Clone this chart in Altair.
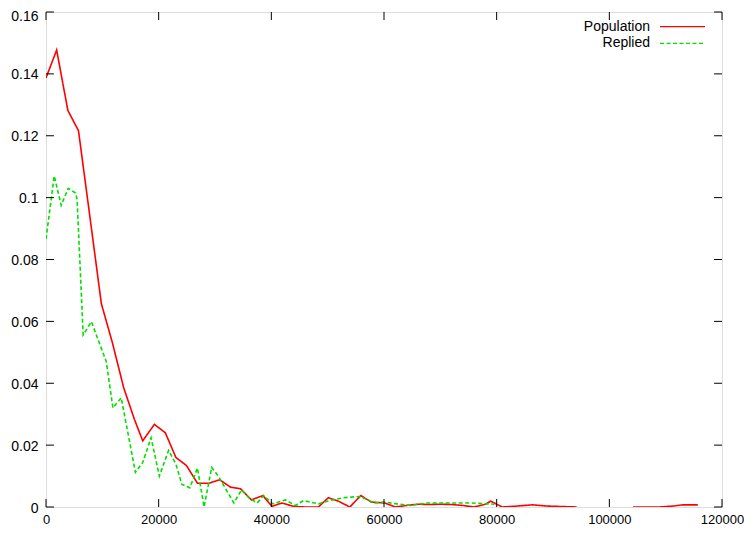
import altair as alt
import pandas as pd

FONT = "Liberation Sans"

# Population (red, solid) - first run
pop_x_a = [0, 1890, 3880, 5770, 7800, 9830, 11800, 13800, 15700, 17170, 19240, 21180,
           23060, 24940, 26880, 28940, 30820, 32770, 34530, 36470, 38500, 40100, 41880,
           43940, 46000, 48350, 50120, 51880, 53940, 55880, 57760, 60120, 62000, 64000,
           66000, 68000, 70000, 72000, 74000, 76000, 78000, 78940, 80000, 81000, 83600,
           86300, 89000, 94200]
pop_y_a = [0.1387, 0.1477, 0.1282, 0.1216, 0.0937, 0.0657, 0.0530, 0.0385, 0.0283, 0.0214,
           0.0267, 0.0240, 0.0160, 0.0134, 0.0077, 0.0077, 0.0088, 0.0064, 0.0059, 0.0023,
           0.0037, 0.0002, 0.0013, 0.0002, 0.0, 0.0, 0.0030, 0.0019, 0.0, 0.0037, 0.0016,
           0.0013, 0.0, 0.0005, 0.0009, 0.0008, 0.0009, 0.0008, 0.0005, 0.0, 0.0009, 0.0019,
           0.0009, 0.0, 0.0003, 0.0007, 0.0003, 0.0]
# Population - second run (after gap)
pop_x_b = [104200, 108900, 111300, 113000, 115700]
pop_y_b = [0.0, 0.0, 0.0003, 0.0007, 0.0007]

# Replied (green, dashed)
rep_x = [0, 1460, 2700, 3940, 5240, 5520, 6600, 8060, 10700, 11880, 13350, 15880, 17170,
         18650, 20120, 21760, 23060, 24120, 25530, 26880, 28060, 29410, 30590, 31880, 33350,
         34700, 36000, 37470, 38650, 40250, 42490, 44260, 45740, 48350, 50410, 52760, 55700,
         58350, 60000, 62350, 64700, 67650, 75300, 79600]
rep_y = [0.0866, 0.1070, 0.0975, 0.1030, 0.1015, 0.0994, 0.0556, 0.0599, 0.0470, 0.0320,
         0.0353, 0.0112, 0.0144, 0.0224, 0.0100, 0.0183, 0.0139, 0.0073, 0.0062, 0.0126,
         0.0, 0.0128, 0.0100, 0.0059, 0.0013, 0.0055, 0.0030, 0.0013, 0.0037, 0.0010,
         0.0023, 0.0005, 0.0021, 0.0010, 0.0021, 0.0030, 0.0034, 0.0013, 0.0016, 0.0010,
         0.0005, 0.0013, 0.0013, 0.0009]

series_names = ["Population", "Replied"]
series_colors = ["#ff0000", "#00e000"]

x_ticks = [0, 20000, 40000, 60000, 80000, 100000, 120000]
y_ticks = [0, 0.02, 0.04, 0.06, 0.08, 0.1, 0.12, 0.14, 0.16]

rows = []
for x, y in zip(pop_x_a, pop_y_a):
    rows.append({"series": "Population", "seg": "Population-a", "x": x, "y": y})
for x, y in zip(pop_x_b, pop_y_b):
    rows.append({"series": "Population", "seg": "Population-b", "x": x, "y": y})
for x, y in zip(rep_x, rep_y):
    rows.append({"series": "Replied", "seg": "Replied-a", "x": x, "y": y})
df = pd.DataFrame(rows)

xscale = alt.Scale(domain=[0, 120000], nice=False, zero=False)
yscale = alt.Scale(domain=[0, 0.16], nice=False, zero=False)

x_axis = alt.Axis(values=x_ticks, format="d", grid=False, ticks=False, domain=False,
                  labelPadding=6, labelFontSize=13, labelFont=FONT, labelColor="#000",
                  labelFlush=False, title=None)
y_axis = alt.Axis(values=y_ticks, format="~g", grid=False, ticks=False, domain=False,
                  labelPadding=8, labelFontSize=14, labelFont=FONT, labelColor="#000",
                  labelFlush=False,
                  labelOffset={"condition": {"test": "datum.value >= 0.159", "value": 4},
                               "value": 1},
                  title=None)

lines = alt.Chart(df).mark_line(strokeWidth=1.6, clip=True).encode(
    x=alt.X("x:Q", scale=xscale, axis=x_axis),
    y=alt.Y("y:Q", scale=yscale, axis=y_axis),
    color=alt.Color("series:N", scale=alt.Scale(domain=series_names, range=series_colors),
                    legend=None),
    strokeDash=alt.StrokeDash("series:N",
                              scale=alt.Scale(domain=series_names, range=[[1, 0], [4, 2.5]]),
                              legend=None),
    detail="seg:N",
)

TX = 0.0026   # tick length in y units (~8px)
TY = 1410     # tick length in x units (~8px)

xt = pd.DataFrame({"v": x_ticks})
yt = pd.DataFrame({"v": y_ticks})

bottom_ticks = alt.Chart(xt).mark_rule(color="#000", strokeWidth=1).encode(
    x=alt.X("v:Q", scale=xscale), y=alt.datum(0, scale=yscale), y2=alt.datum(TX))
top_ticks = alt.Chart(xt).mark_rule(color="#000", strokeWidth=1).encode(
    x=alt.X("v:Q", scale=xscale), y=alt.datum(0.16, scale=yscale), y2=alt.datum(0.16 - TX))
left_ticks = alt.Chart(yt).mark_rule(color="#000", strokeWidth=1).encode(
    y=alt.Y("v:Q", scale=yscale), x=alt.datum(0, scale=xscale), x2=alt.datum(TY))
right_ticks = alt.Chart(yt).mark_rule(color="#000", strokeWidth=1).encode(
    y=alt.Y("v:Q", scale=yscale), x=alt.datum(120000, scale=xscale), x2=alt.datum(120000 - TY))

# key (legend) drawn inside the plot, top right
leg = []
for i, (name, col) in enumerate(zip(series_names, series_colors)):
    ldf = pd.DataFrame({"label": [name]})
    ypos = 14.7 + 16.6 * i
    leg.append(alt.Chart(ldf).mark_text(align="right", baseline="middle", font=FONT,
                                        fontSize=14, color="#000").encode(
        text="label:N", x=alt.value(604), y=alt.value(ypos)))
    leg.append(alt.Chart(ldf).mark_rule(color=col, strokeWidth=1.3,
                                        strokeDash=[1, 0] if i == 0 else [4, 2.5]).encode(
        x=alt.value(614), x2=alt.value(659), y=alt.value(ypos)))

chart = alt.layer(lines, bottom_ticks, top_ticks, left_ticks, right_ticks, *leg).properties(
    width=676, height=495,
    autosize=alt.AutoSizeParams(type="none"),
    padding={"left": 38, "top": 4, "right": 22, "bottom": 20},
).configure_view(stroke="#000", strokeWidth=1).configure(background="white")

chart.save("out.html", embed_options={"renderer": "svg", "actions": False})
